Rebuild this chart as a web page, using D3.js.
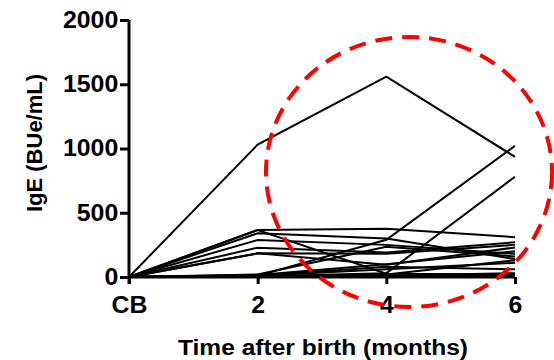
<!DOCTYPE html>
<html>
<head>
<meta charset="utf-8">
<script src="https://cdn.jsdelivr.net/npm/d3@7"></script>
<style>
  body { margin: 0; background: #fff; }
  svg { display: block; }
  text { font-family: "Liberation Sans", Arial, sans-serif; font-weight: bold; fill: #000; }
</style>
</head>
<body>
<div id="chart"></div>
<script>
// time points and y ticks
const timePoints = ["CB", "2", "4", "6"];
const yTicks = [0, 500, 1000, 1500, 2000];

// IgE per infant (BUe/mL) at CB, 2, 4, 6 months
const infant01 = [0, 1030, 1560, 935];
const infant02 = [0, 10, 290, 1020];
const infant03 = [0, 5, 30, 780];
const infant04 = [0, 366, 375, 310];
const infant05 = [0, 366, 25, 20];
const infant06 = [0, 340, 300, 140];
const infant07 = [0, 288, 250, 180];
const infant08 = [0, 228, 190, 270];
const infant09 = [0, 184, 180, 250];
const infant10 = [0, 184, 95, 230];
const infant11 = [0, 20, 235, 160];
const infant12 = [0, 15, 100, 200];
const infant13 = [0, 10, 80, 60];
const infant14 = [0, 10, 60, 110];
const infant15 = [0, 5, 20, 130];
const infant16 = [0, 5, 10, 30];
const infant17 = [0, 0, 5, 10];

const infants = [infant01, infant02, infant03, infant04, infant05, infant06,
  infant07, infant08, infant09, infant10, infant11, infant12, infant13,
  infant14, infant15, infant16, infant17];

const width = 554, height = 360;

const svg = d3.select('#chart')
  .append('svg')
  .attr('width', width)
  .attr('height', height);

const x = d3.scalePoint()
  .domain(timePoints)
  .range([129, 515]);

const y = d3.scaleLinear()
  .domain([0, 2000])
  .range([277, 20]);

// lines
const line = d3.line()
  .x((d, i) => x(timePoints[i]))
  .y(d => y(d));

svg.append('g')
  .selectAll('path')
  .data(infants)
  .enter()
  .append('path')
  .attr('d', line)
  .attr('fill', 'none')
  .attr('stroke', '#000')
  .attr('stroke-width', 2)
  .attr('stroke-linejoin', 'miter');

// axes
const yAxis = svg.append('g')
  .attr('transform', 'translate(129,0)')
  .call(d3.axisLeft(y).tickValues(yTicks).tickFormat(d3.format('d')).tickSize(9).tickPadding(1));

const xAxis = svg.append('g')
  .attr('transform', 'translate(0,277)')
  .call(d3.axisBottom(x).tickSize(7).tickPadding(13));

[yAxis, xAxis].forEach(g => {
  g.select('.domain').attr('stroke', '#000').attr('stroke-width', 3);
  g.selectAll('.tick line').attr('stroke', '#000').attr('stroke-width', 3);
  g.selectAll('.tick text')
    .style('font-size', '23px')
    .attr('fill', '#000')
    .attr('transform', 'scale(1.08,1)');
});
yAxis.select('.domain').attr('d', 'M0,284V20');
xAxis.select('.domain').attr('d', 'M129,0H515');

// axis titles
svg.append('text')
  .attr('x', 323)
  .attr('y', 355)
  .attr('text-anchor', 'middle')
  .attr('textLength', 290)
  .attr('lengthAdjust', 'spacingAndGlyphs')
  .style('font-size', '22px')
  .text('Time after birth (months)');

svg.append('text')
  .attr('transform', 'translate(42,143) rotate(-90)')
  .attr('text-anchor', 'middle')
  .style('font-size', '22px')
  .text('IgE (BUe/mL)');

// red dashed highlight
svg.append('ellipse')
  .attr('cx', 409)
  .attr('cy', 172)
  .attr('rx', 143)
  .attr('ry', 135)
  .attr('fill', 'none')
  .attr('stroke', '#ff0000')
  .attr('stroke-width', 4)
  .attr('stroke-dasharray', '17 10');
</script>
</body>
</html>
